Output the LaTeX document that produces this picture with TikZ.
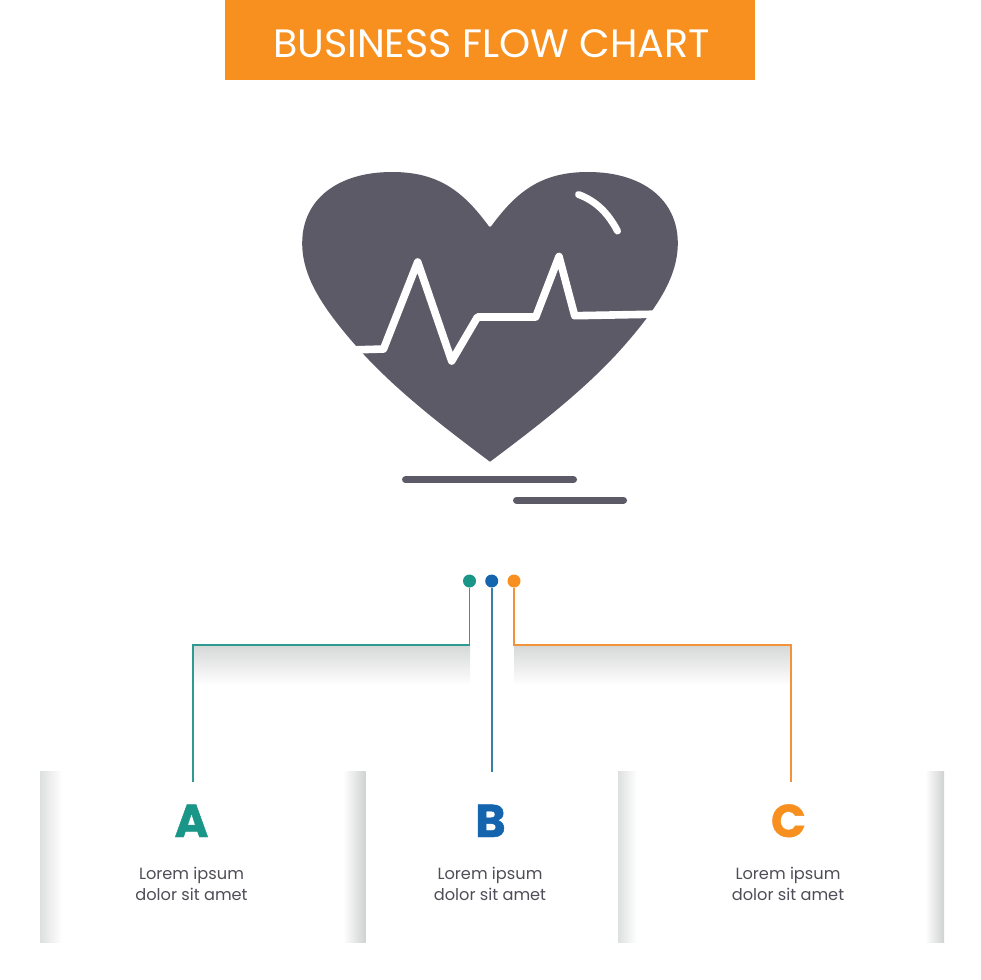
\documentclass[tikz,border=0pt]{standalone}
\usepackage{fontspec}
\setmainfont{Poppins}
\newfontfamily\headfont{Poppins}
\newfontfamily\letterfont[FakeBold=1]{Poppins Bold}
\usetikzlibrary{shadings}
\definecolor{orangeC}{HTML}{F7901E}
\definecolor{tealC}{HTML}{1A9688}
\definecolor{blueC}{HTML}{1565AE}
\definecolor{tealL}{HTML}{2F9A90}
\definecolor{blueL}{HTML}{3B7FA8}
\definecolor{orangeL}{HTML}{F2923A}
\definecolor{iconC}{HTML}{5B5A66}
\definecolor{textC}{HTML}{4F4E58}
\definecolor{shadeC}{HTML}{D6D8D8}
\definecolor{shadeM}{HTML}{F1F2F2}
\definecolor{edgeL}{HTML}{DEDFDF}
\definecolor{edgeR}{HTML}{D0D1D1}
\tikzset{
  dotnode/.style={circle,inner sep=0pt,minimum size=13pt},
  letternode/.style={font=\letterfont\fontsize{46}{46}\selectfont,inner sep=0pt,anchor=base},
  bodynode/.style={font=\fontsize{16.2}{20.5}\selectfont,text=textC,align=center,inner sep=0pt,anchor=center},
  wire/.style={line width=1.8pt},
  iconbar/.style={line width=7pt,line cap=round,iconC},
  cut/.style={draw=white,line join=round,line cap=butt,line width=7.6pt},
  fadedown/.style={top color=shadeC,middle color=shadeM,bottom color=white},
  fadeleft/.style={left color=edgeL,middle color=shadeM,right color=white},
  faderight/.style={left color=white,middle color=shadeM,right color=edgeR},
}
\begin{document}
\begin{tikzpicture}[x=1pt,y=-1pt]
\useasboundingbox (0,0) rectangle (980,980);
\fill[white] (0,0) rectangle (980,980);
% header
\fill[orangeC] (225,0) rectangle (755,80);
\node[font=\headfont\fontsize{39.6}{39.6}\selectfont,text=white,inner sep=0pt] (title) at (491.5,43.5) {BUSINESS FLOW CHART};
% heart
\fill[iconC] (487.5,224.5) .. controls (462,190) and (437,172) .. (392,172)
  .. controls (337,172) and (302.2,200) .. (302.2,243)
  .. controls (302.2,275) and (320,305) .. (357,347)
  .. controls (395,390) and (445,428) .. (490,461.7)
  .. controls (535,428) and (585,390) .. (623,347)
  .. controls (660,305) and (677.8,275) .. (677.8,243)
  .. controls (677.8,200) and (643,172) .. (588,172)
  .. controls (543,172) and (518,190) .. (492.5,224.5)
  .. controls (491,227.5) and (489,227.5) .. (487.5,224.5) -- cycle;
% ECG trace
\draw[cut] (350,350) -- (383.5,349) -- (417.7,262) -- (451.7,361) -- (477.5,317) -- (535.7,317) -- (559,256.5) -- (574.7,315.7) -- (665,314);
\draw[white,line width=7pt,line cap=round] (578.5,194.5) .. controls (596,201) and (608,213) .. (617.5,231);
% ground lines
\draw[iconbar] (405.5,479.7) -- (573.5,479.7);
\draw[iconbar] (516.5,500.3) -- (623.5,500.3);
% shadows under connectors
\shade[fadedown] (193,645) rectangle (470,685);
\shade[fadedown] (514,645) rectangle (791,685);
% panels
\shade[fadeleft] (40,771.5) rectangle (62,942);
\shade[faderight] (343,771.5) rectangle (365.5,942);
\shade[fadeleft] (618,771.5) rectangle (637,942);
\shade[faderight] (925,771.5) rectangle (944,942);
% dots
\node[dotnode,fill=tealC] (da) at (469.5,581) {};
\node[dotnode,fill=blueC] (db) at (491.7,581) {};
\node[dotnode,fill=orangeC] (dc) at (514,581) {};
% letters
\node[letternode,text=tealC] (la) at (191.5,837) {A};
\node[letternode,text=blueC] (lb) at (490.5,837) {B};
\node[letternode,text=orangeC] (lc) at (788.5,837) {C};
% connector ends
\coordinate (ea) at (192.7,782);
\coordinate (eb) at (491.7,771.5);
\coordinate (ec) at (791,782);
\coordinate (ka) at (469.5,645);
\coordinate (kc) at (514,645);
\draw[wire,tealL] (da.south) -- (ka) -- (ka -| ea) -- (ea);
\draw[wire,blueL] (db.south) -- (eb);
\draw[wire,orangeL] (dc.south) -- (kc) -- (kc -| ec) -- (ec);
% body
\node[bodynode] (ta) at (191.5,884) {Lorem ipsum\\dolor sit amet};
\node[bodynode] (tb) at (490,884) {Lorem ipsum\\dolor sit amet};
\node[bodynode] (tc) at (788,884) {Lorem ipsum\\dolor sit amet};
\end{tikzpicture}
\end{document}
